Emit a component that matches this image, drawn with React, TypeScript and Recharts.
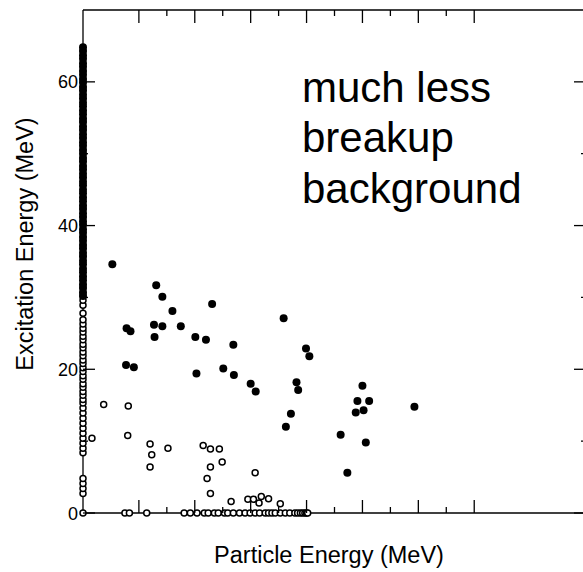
import React from "react"
import { ScatterChart, Scatter, XAxis, YAxis } from "recharts"

// filled dots stacked on the y axis (x = 0)
const filledColumnY = [
  30.2, 30.7, 31.3, 31.8, 32.4, 32.9, 33.5, 34.0, 34.6, 35.1, 35.7, 36.2, 36.8, 37.3, 37.9, 38.4, 39.0, 39.5,
  40.1, 40.6, 41.2, 41.7, 42.3, 42.8, 43.4, 43.9, 44.5, 45.0, 45.6, 46.1, 46.7, 47.2, 47.8, 48.3, 48.9, 49.4,
  50.0, 50.5, 51.1, 51.6, 52.2, 52.7, 53.3, 53.8, 54.4, 54.9, 55.5, 56.0, 56.6, 57.1, 57.7, 58.2, 58.8, 59.3,
  59.9, 60.4, 61.0, 61.5, 62.1, 62.6, 63.2, 63.7, 64.3, 64.8,
]

// filled dots out in the plane
const filledX = [
  5.25, 13.1, 14.2, 16.0, 23.1, 7.8, 8.5, 12.7, 14.2, 17.5, 12.8, 20.1, 22.0, 26.9, 7.7, 9.1, 20.3, 25.1, 27.0,
  30.0, 30.9, 35.9, 39.9, 40.5, 38.2, 38.5, 37.2, 36.3, 50.0, 49.1, 51.2, 50.2, 48.8, 59.3, 46.1, 50.6, 47.3,
]
const filledY = [
  34.6, 31.7, 30.1, 28.1, 29.1, 25.7, 25.3, 26.2, 26.0, 26.0, 24.5, 24.5, 24.1, 23.4, 20.6, 20.3, 19.4, 20.1, 19.2,
  18.0, 16.9, 27.1, 22.9, 21.8, 18.2, 17.1, 13.8, 12.0, 17.7, 15.6, 15.6, 14.3, 14.0, 14.8, 10.9, 9.8, 5.6,
]

// open circles on the y axis (x = 0)
const openColumnY = [
  0, 2.7, 3.4, 4.1, 4.8, 8.4, 9.0, 9.7, 10.4, 11.1, 11.8, 12.5, 13.2, 13.9, 14.6, 15.3, 15.8, 16.4, 16.9, 17.5,
  18.0, 18.6, 19.1, 19.7, 20.2, 20.8, 21.3, 21.9, 22.4, 23.0, 23.5, 24.1, 24.6, 25.2, 25.7, 26.3, 26.9, 27.8,
  28.9, 29.6,
]

// open circles on the x axis (y = 0)
const openRowX = [
  7.5, 8.3, 11.4, 18.1, 19.2, 20.4, 21.7, 22.4, 23.5, 24.2, 25.3, 25.9, 26.9, 28.0, 29.0, 29.9, 30.8, 31.6, 32.6,
  33.2, 33.8, 34.4, 35.3, 36.2, 37.0, 37.9, 38.4, 38.9, 39.3, 39.7, 40.0, 40.2,
]

// open circles out in the plane
const openX = [
  3.7, 1.6, 8.1, 8.0, 12.0, 12.3, 12.0, 15.2, 21.5, 22.8, 24.4, 24.9, 22.8, 22.2, 22.8, 26.5, 29.5, 30.5, 30.8,
  31.5, 31.9, 33.2, 35.3,
]
const openY = [
  15.1, 10.4, 14.9, 10.8, 9.6, 8.1, 6.4, 9.0, 9.4, 8.9, 8.9, 7.1, 6.4, 4.8, 2.7, 1.6, 1.9, 1.9, 5.6, 1.4, 2.3, 2.0,
  1.3,
]

const xTicks = [10, 15, 20, 25, 30, 35, 40, 45, 50, 55, 60, 65, 70]
const yTicks = [0, 10, 20, 30, 40, 50, 60]
const yLabels = [0, 20, 40, 60]

const X_MAX = 90
const Y_MAX = 70

const filledData = [
  ...filledColumnY.map((y) => ({ x: 0, y })),
  ...filledX.map((x, i) => ({ x, y: filledY[i] })),
]
const openData = [
  ...openColumnY.map((y) => ({ x: 0, y })),
  ...openRowX.map((x) => ({ x, y: 0 })),
  ...openX.map((x, i) => ({ x, y: openY[i] })),
]

const FONT = "Arial, 'Liberation Sans', sans-serif"
const LEFT = 83
const RIGHT = 586
const TOP = 10
const BOTTOM = 513

// same linear mapping as the chart's x axis, for the top frame ticks
const xPos = (v: number) => LEFT + (v / X_MAX) * (RIGHT - LEFT)

const FilledDot = (props: any) => <circle cx={props.cx} cy={props.cy} r={4} fill="#000" />
const OpenDot = (props: any) => (
  <circle cx={props.cx} cy={props.cy} r={3} fill="#fff" stroke="#000" strokeWidth={1.5} />
)
const NoDot = () => <g />

const XTick = (props: any) => {
  const len = props.payload.value % 10 === 0 ? 13 : 6
  return <line x1={props.x} x2={props.x} y1={BOTTOM} y2={BOTTOM - len} stroke="#000" strokeWidth={1.3} />
}
const LeftTick = (props: any) => {
  const v = props.payload.value
  const major = v % 20 === 0
  return (
    <g>
      <line x1={LEFT} x2={LEFT + (major ? 12 : 5)} y1={props.y} y2={props.y} stroke="#000" strokeWidth={1.3} />
      {yLabels.includes(v) && (
        <text x={LEFT - 5} y={props.y + 6.5} textAnchor="end" fontSize={18} fontFamily={FONT} fill="#000">
          {v}
        </text>
      )}
    </g>
  )
}
const RightTick = (props: any) => {
  const major = props.payload.value % 20 === 0
  return <line x1={RIGHT} x2={RIGHT - (major ? 12 : 5)} y1={props.y} y2={props.y} stroke="#000" strokeWidth={1.3} />
}

const axisLine = { stroke: "#000", strokeWidth: 1.3 }

export default function App() {
  return (
    <div style={{ position: "absolute", left: 0, top: 0, width: 583, height: 572, overflow: "hidden", background: "#fff" }}>
      <ScatterChart
        width={600}
        height={572}
        margin={{ top: TOP - 1, right: 600 - RIGHT - 1, bottom: 572 - BOTTOM - 1, left: LEFT - 1 }}
      >
        <XAxis
          xAxisId="b"
          type="number"
          dataKey="x"
          domain={[0, X_MAX]}
          ticks={xTicks}
          interval={0}
          height={1}
          tickSize={0}
          tickLine={false}
          tick={<XTick />}
          axisLine={axisLine}
        />
        <XAxis
          xAxisId="t"
          orientation="top"
          type="number"
          dataKey="x"
          domain={[0, X_MAX]}
          height={1}
          tick={false}
          tickLine={false}
          axisLine={axisLine}
        />
        <YAxis
          yAxisId="l"
          type="number"
          dataKey="y"
          domain={[0, Y_MAX]}
          ticks={yTicks}
          interval={0}
          width={1}
          tickSize={0}
          tickLine={false}
          tick={<LeftTick />}
          axisLine={axisLine}
        />
        <YAxis
          yAxisId="r"
          orientation="right"
          type="number"
          dataKey="y"
          domain={[0, Y_MAX]}
          ticks={yTicks}
          interval={0}
          width={1}
          tickSize={0}
          tickLine={false}
          tick={<RightTick />}
          axisLine={axisLine}
        />
        {/* invisible series so the top and right axes get their ticks */}
        <Scatter xAxisId="t" yAxisId="r" data={filledData} shape={<NoDot />} isAnimationActive={false} />
        <Scatter xAxisId="b" yAxisId="l" data={openData} shape={<OpenDot />} isAnimationActive={false} />
        <Scatter xAxisId="b" yAxisId="l" data={filledData} shape={<FilledDot />} isAnimationActive={false} />
      </ScatterChart>
      <svg width={583} height={572} style={{ position: "absolute", left: 0, top: 0, pointerEvents: "none" }}>
        <g stroke="#000" strokeWidth={1.3}>
          {xTicks.map((v) => (
            <line key={v} x1={xPos(v)} x2={xPos(v)} y1={TOP} y2={TOP + (v % 10 === 0 ? 13 : 6)} />
          ))}
        </g>
        <g fontFamily={FONT} fill="#000">
          <text x={302} y={101.5} fontSize={42}>much less</text>
          <text x={302} y={152} fontSize={42}>breakup</text>
          <text x={302} y={202.5} fontSize={42}>background</text>
          <text x={329} y={563} fontSize={23.5} textAnchor="middle">Particle Energy (MeV)</text>
          <text x={33} y={244} fontSize={23.5} textAnchor="middle" transform="rotate(-90, 33, 244)">
            Excitation Energy (MeV)
          </text>
        </g>
      </svg>
    </div>
  )
}
